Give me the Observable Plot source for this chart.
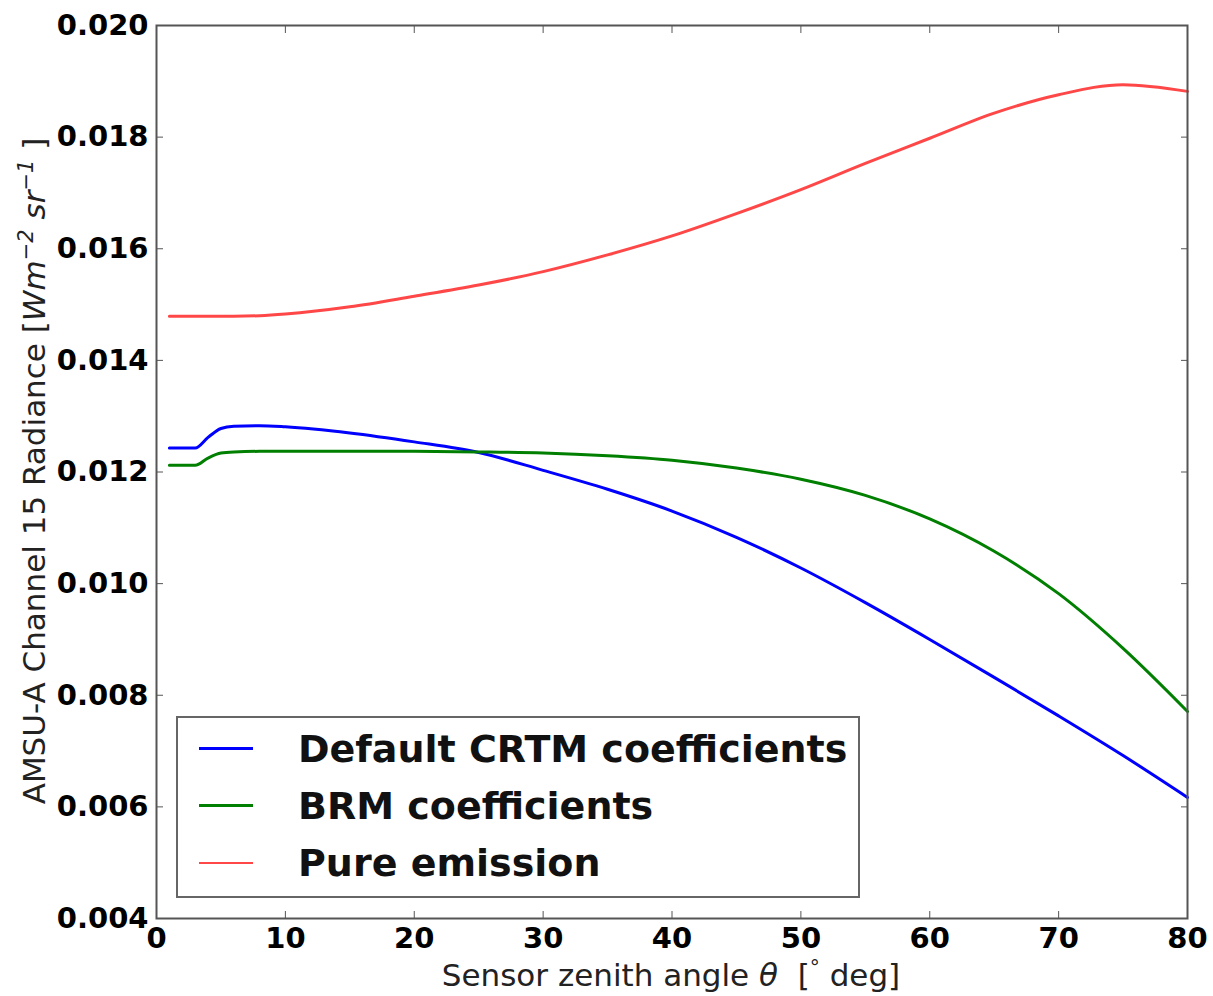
<!DOCTYPE html>
<html>
<head>
<meta charset="utf-8">
<script src="https://cdn.jsdelivr.net/npm/d3@7"></script>
<script src="https://cdn.jsdelivr.net/npm/@observablehq/plot@0.6"></script>
<style>
  html, body { margin: 0; padding: 0; background: #fff; }
  #chart { position: relative; width: 1213px; height: 996px; }
  #legend {
    position: absolute; left: 176px; top: 716px; width: 684px; height: 182px;
    border: 2px solid #666; background: #fff; box-sizing: border-box;
    font-family: "DejaVu Sans", sans-serif; font-weight: bold; font-size: 38px; color: #111;
    padding: 2px 0 0 0;
  }
  .row { display: flex; align-items: center; height: 57px; }
  .swatch { width: 54px; height: 0; margin-left: 21px; margin-right: 45px; }
</style>
</head>
<body>
<div id="chart"></div>
<script>
// Sensor zenith angle (degrees)
const angle = [1, 2, 3, 4, 5, 6, 8, 10, 15, 20, 25, 30, 35, 40, 45, 50, 55, 60, 65, 70, 75, 80];
// AMSU-A channel 15 radiance [W m^-2 sr^-1]
const defaultCRTM = [0.01243, 0.01243, 0.01243, 0.01262, 0.01278, 0.01282, 0.01283, 0.01281, 0.01270, 0.01254, 0.01235, 0.01203, 0.01169, 0.01130, 0.01083, 0.01028, 0.00966, 0.00900, 0.00832, 0.00763, 0.00692, 0.00617];
const brmCoefficients = [0.01212, 0.01212, 0.01212, 0.01225, 0.01234, 0.01236, 0.01237, 0.01237, 0.01237, 0.01237, 0.01236, 0.01234, 0.01229, 0.01221, 0.01207, 0.01187, 0.01158, 0.01116, 0.01058, 0.00982, 0.00884, 0.00771];
const pureEmission = [0.01479, 0.01479, 0.01479, 0.01479, 0.01479, 0.01479, 0.01480, 0.01483, 0.01496, 0.01515, 0.01535, 0.01559, 0.01589, 0.01623, 0.01663, 0.01706, 0.01753, 0.01798, 0.01843, 0.01876, 0.01894, 0.01882];

const seriesNames = ["Default CRTM coefficients", "BRM coefficients", "Pure emission"];
const seriesColors = ["#0000ff", "#007f00", "rgba(255,0,0,0.72)"];

const xTicks = [0, 10, 20, 30, 40, 50, 60, 70, 80];
const yTicks = [0.004, 0.006, 0.008, 0.010, 0.012, 0.014, 0.016, 0.018, 0.020];

const rows = [];
[defaultCRTM, brmCoefficients, pureEmission].forEach((vals, s) => {
  vals.forEach((v, i) => rows.push({angle: angle[i], value: v, series: seriesNames[s]}));
});

const tickStyle = {tickSize: -7, stroke: "#555", label: null};
const labelFont = {fontWeight: "bold", fontSize: 29, fill: "#000"};

const chart = Plot.plot({
  width: 1213,
  height: 996,
  marginLeft: 156,
  marginRight: 26,
  marginTop: 25,
  marginBottom: 78,
  style: {fontFamily: "DejaVu Sans, sans-serif", background: "#fff"},
  x: {domain: [0, 80]},
  y: {domain: [0.004, 0.020]},
  color: {domain: seriesNames, range: seriesColors},
  marks: [
    Plot.axisX(xTicks, {anchor: "bottom", ...tickStyle, tickPadding: 16, tickFormat: d => String(d), ...labelFont}),
    Plot.axisX(xTicks, {anchor: "top", ...tickStyle, tickFormat: () => ""}),
    Plot.axisY(yTicks, {anchor: "left", ...tickStyle, tickPadding: 15, tickFormat: d3.format(".3f"), ...labelFont}),
    Plot.axisY(yTicks, {anchor: "right", ...tickStyle, tickFormat: () => ""}),
    Plot.line(rows, {x: "angle", y: "value", z: "series", stroke: "series", strokeWidth: 3, curve: "monotone-x"}),
    Plot.frame({stroke: "#555", strokeWidth: 2})
  ]
});

document.getElementById("chart").appendChild(chart);

// Axis titles with italic math symbols and superscripts
const svg = d3.select(chart);
const xt = svg.append("text")
  .attr("x", 671).attr("y", 986)
  .attr("text-anchor", "middle")
  .attr("font-size", 31).attr("fill", "#222");
xt.append("tspan").text("Sensor zenith angle ");
xt.append("tspan").attr("font-style", "italic").text("θ");
xt.append("tspan").text("  [");
xt.append("tspan").attr("font-size", 20).attr("dy", -12).text("°");
xt.append("tspan").attr("dy", 12).text(" deg]");

const yt = svg.append("text")
  .attr("transform", "translate(45,471) rotate(-90)")
  .attr("text-anchor", "middle")
  .attr("font-size", 31).attr("fill", "#222");
yt.append("tspan").text("AMSU-A Channel 15 Radiance [");
yt.append("tspan").attr("font-style", "italic").text("Wm");
yt.append("tspan").attr("font-size", 21).attr("dy", -12).attr("font-style", "italic").text("−2");
yt.append("tspan").attr("dy", 12).attr("font-style", "italic").text(" sr");
yt.append("tspan").attr("font-size", 21).attr("dy", -12).attr("font-style", "italic").text("−1");
yt.append("tspan").attr("dy", 12).text(" ]");

// Legend box
const legend = document.createElement("div");
legend.id = "legend";
seriesNames.forEach((name, i) => {
  const row = document.createElement("div");
  row.className = "row";
  const sw = document.createElement("span");
  sw.className = "swatch";
  sw.style.borderTop = `${i === 2 ? 2 : 3}px solid ${seriesColors[i]}`;
  const label = document.createElement("span");
  label.textContent = name;
  row.appendChild(sw);
  row.appendChild(label);
  legend.appendChild(row);
});
document.getElementById("chart").appendChild(legend);
</script>
</body>
</html>
